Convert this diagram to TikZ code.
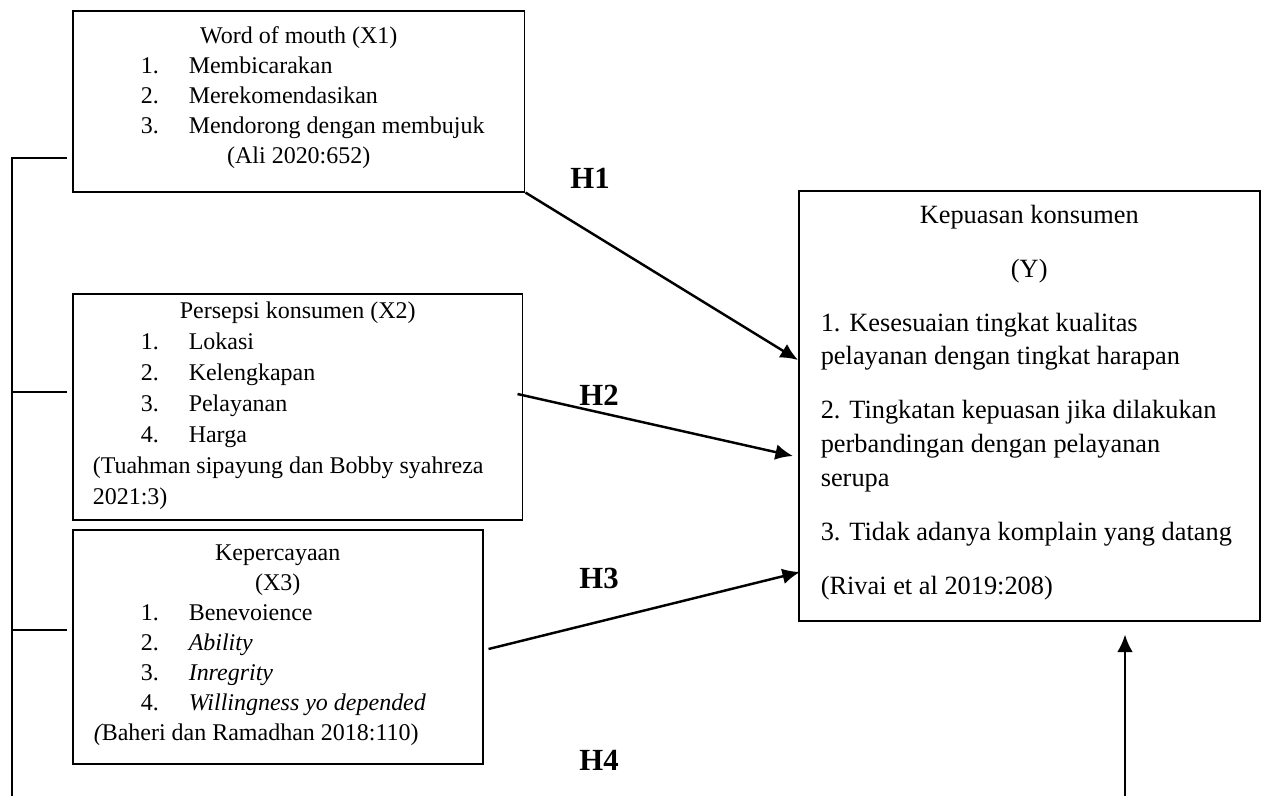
\documentclass[tikz,border=0pt]{standalone}
\usepackage{fontspec}
\setmainfont{Liberation Serif}
\usetikzlibrary{arrows.meta,positioning}

\newcommand{\numline}[2]{\hspace*{1.36cm}\makebox[0.96cm][l]{#1}#2}
\newcommand{\midline}[1]{\makebox[\linewidth][c]{#1}}

\begin{document}
\begin{tikzpicture}[>={Latex[length=10pt,width=9pt]},x=0.02cm,y=-0.02cm]
  \tikzstyle{box}=[draw,line width=0.9pt,inner sep=0pt,anchor=north west]
  \tikzstyle{hyp}=[font=\fontsize{17.5pt}{20pt}\selectfont\bfseries]
  \tikzstyle{link}=[line width=1.4pt]
  \useasboundingbox (0,0) rectangle (1264,796);
  \node[box] (x1) at (72,10) {\parbox[c][3.62cm][t]{9.04cm}{\fontsize{13.65pt}{17.07pt}\selectfont
    \midline{\rule{0pt}{0.66cm}Word of mouth (X1)}\\
    \numline{1.}{Membicarakan}\\
    \numline{2.}{Merekomendasikan}\\
    \numline{3.}{Mendorong dengan membujuk}\\
    \midline{(Ali 2020:652)}}};
  \node[box] (x2) at (72,293) {\parbox[c][4.52cm][t]{9.0cm}{\fontsize{13.65pt}{17.64pt}\selectfont
    \midline{\rule{0pt}{0.5cm}Persepsi konsumen (X2)}\\
    \numline{1.}{Lokasi}\\
    \numline{2.}{Kelengkapan}\\
    \numline{3.}{Pelayanan}\\
    \numline{4.}{Harga}\\
    \hspace*{0.4cm}(Tuahman sipayung dan Bobby syahreza\\
    \hspace*{0.4cm}2021:3)}};
  \node[box] (x3) at (72,529) {\parbox[c][4.68cm][t]{8.2cm}{\fontsize{13.65pt}{17.07pt}\selectfont
    \midline{\rule{0pt}{0.62cm}Kepercayaan}\\
    \midline{(X3)}\\
    \numline{1.}{Benevoience}\\
    \numline{2.}{\textit{Ability}}\\
    \numline{3.}{\textit{Inregrity}}\\
    \numline{4.}{\textit{Willingness yo depended}}\\
    \hspace*{0.42cm}{\itshape(}Baheri dan Ramadhan 2018:110)}};
  \node[box] (y) at (798,190) {\parbox[c][8.6cm][t]{9.22cm}{\fontsize{15pt}{19.17pt}\selectfont
    \midline{\rule{0pt}{0.65cm}Kepuasan konsumen}\\[0.406cm]
    \midline{(Y)}\\[0.406cm]
    \hspace*{0.44cm}1. Kesesuaian tingkat kualitas\\
    \hspace*{0.44cm}pelayanan dengan tingkat harapan\\[0.406cm]
    \hspace*{0.44cm}2. Tingkatan kepuasan jika dilakukan\\
    \hspace*{0.44cm}perbandingan dengan pelayanan\\
    \hspace*{0.44cm}serupa\\[0.406cm]
    \hspace*{0.44cm}3. Tidak adanya komplain yang datang\\[0.406cm]
    \hspace*{0.44cm}(Rivai et al 2019:208)}};
  \node[hyp] (h1) at (590,178) {H1};
  \node[hyp] (h2) at (599,395) {H2};
  \node[hyp] (h3) at (599,578) {H3};
  \node[hyp] (h4) at (599,760) {H4};
  \coordinate (rail) at (12,796);
  \coordinate (h4in) at (1125,796);
  \draw[link] (rail) |- ([shift={(-5,148)}]x1.north west);
  \draw[link] ([shift={(-5,99)}]x2.north west) coordinate (s2) -- (s2 -| rail);
  \draw[link] ([shift={(-5,101)}]x3.north west) coordinate (s3) -- (s3 -| rail);
  \draw[link,->] (x1.south east) -- ([shift={(0,170)}]y.north west);
  \draw[link,->] ([shift={(-6,101)}]x2.north east) -- ([shift={(-5,266)}]y.north west);
  \draw[link,->] ([shift={(5,120)}]x3.north east) -- ([shift={(2,382)}]y.north west);
  \draw[link,->,shorten >=0.26cm] (h4in) -- (h4in |- y.south);
\end{tikzpicture}
\end{document}
